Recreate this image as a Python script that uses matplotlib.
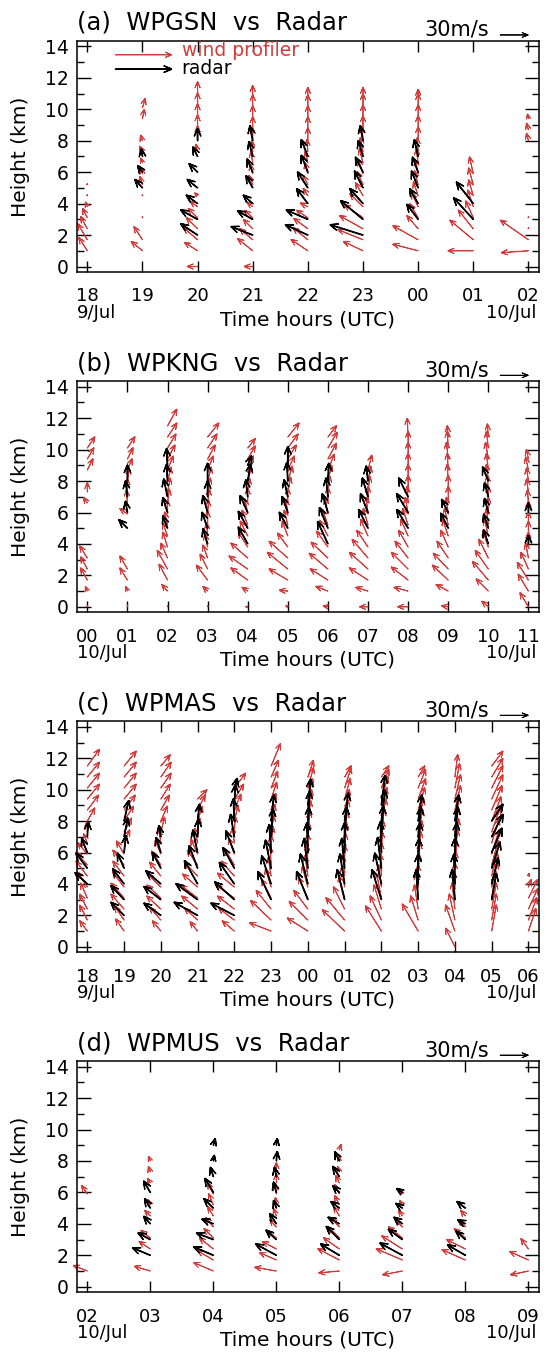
import numpy as np
import matplotlib
matplotlib.use('Agg')
import matplotlib.pyplot as plt
from matplotlib.ticker import MultipleLocator

N = None
RED = '#d63b3b'

# wind profiler gates and radar analysis levels (km)
wp_heights = [0.0, 1.0, 1.7, 2.4, 3.1, 3.8, 4.5, 5.2, 5.9, 6.6, 7.3, 8.0, 8.7, 9.4, 10.1, 10.8, 11.5]
radar_heights = [2, 3, 4, 5, 6, 7, 8, 9, 10]

# (u, v) in m/s, one row per hour, one entry per level

# (a) WPGSN
hours_a = ['18', '19', '20', '21', '22', '23', '00', '01', '02']
wp_a = [
    [N, (-9, 14), (-10, 17), (-7, 13), (-5, 10), (-2, 5), (0, 1), (0, 1), N, N, N, N, N, N, N, N, N],
    [N, (-12, 10), (-9, 14), N, (0, 1), N, (0, 1), (-3, 9), (-1, 6), (-2, 5), (-3, 6), (-2, 6), N, (2, 10), (3, 10), N, N],
    [(-11, 0), (-14, 9), (-15, 13), (-12, 12), (-10, 10), (-8, 6), (-3, 3), N, N, N, (-2, 8), (0, 16), (0, 16), (0, 16), (0, 16), (0, 16), N],
    [(-9, 0), (-16, 13), (-14, 12), (-10, 10), (-9, 8), (-6, 5), N, (-4, 10), (-3, 10), (-2, 12), (-1, 12), (0, 14), (0, 14), (0, 14), (0, 14), (0, 12), N],
    [N, (-18, 12), (-16, 13), (-15, 11), (-12, 8), (-8, 4), (-5, 8), (-5, 10), (-3, 12), (-3, 12), (-1, 13), (0, 14), (0, 14), (0, 14), (0, 14), (0, 10), N],
    [N, (-21, 10), (-27, 11), (-25, 14), (-20, 14), (-14, 14), (-8, 14), (-6, 14), (-5, 15), (-4, 15), (-3, 15), (-1, 15), (0, 15), (0, 15), (0, 15), (0, 10), N],
    [N, (-27, 7), (-27, 15), (-12, 14), (-9, 15), (-7, 15), (-5, 15), (-4, 15), (-3, 15), (-2, 15), (-1, 15), (0, 15), (0, 15), (0, 15), (0, 15), (0, 8), N],
    [N, (-27, 0), (-25, 21), (-16, 20), (-8, 18), (-6, 18), (-5, 17), (-5, 18), (-4, 18), N, N, N, N, N, N, N, N],
    [N, (-29, -2), (-30, 21), (0, 1), (0, 1), N, N, N, N, N, N, (-2, 8), (-2, 7), (-1, 5), N, N, N],
]
radar_a = [
    [N, N, N, N, N, N, N, N, N],
    [N, N, N, (-8, 9), (-5, 7), (-1, 8), N, N, N],
    [(-18, 12), (-18, 10), (-12, 9), (-11, 9), (-9, 9), (-5, 10), (0, 13), N, N],
    [(-23, 9), (-16, 9), (-10, 9), (-7, 13), (-6, 14), (-4, 16), (-3, 16), N, N],
    [(-24, 11), (-23, 10), (-12, 16), (-11, 17), (-7, 18), (-7, 18), N, N, N],
    [(-35, 11), (-24, 20), (-14, 16), (-9, 18), (-8, 16), (-5, 17), (-3, 16), N, N],
    [N, (-12, 16), (-9, 16), (-7, 18), (-6, 16), (-4, 18), N, N, N],
    [N, (-21, 23), (-18, 23), N, N, N, N, N, N],
    [N, N, N, N, N, N, N, N, N],
]

# (b) WPKNG
hours_b = ['00', '01', '02', '03', '04', '05', '06', '07', '08', '09', '10', '11']
wp_b = [
    [(0, 1), (-2, 5), (-7, 13), (-7, 13), (-8, 13), N, N, N, N, (-4, 6), (0, 10), N, (6, 12), (7, 12), (8, 12), N, N],
    [(0, 1), (-2, 5), (-8, 13), (-8, 14), N, N, N, N, (-8, 6), (-1, 14), (0, 14), (2, 14), (5, 12), (6, 12), (8, 12), N, N],
    [(0, 1), (-6, 7), (-9, 17), (-11, 20), (-7, 16), (-5, 16), (-5, 14), (-3, 14), (0, 15), (2, 15), (3, 15), (4, 15), (6, 15), (8, 15), (9, 15), (10, 15), (10, 18)],
    [(0, 1), (-5, 5), (-12, 16), (-8, 16), (-5, 14), (-3, 14), (-1, 14), (0, 15), (1, 15), (2, 15), (3, 15), (4, 15), (6, 15), (8, 15), (10, 15), (12, 15), N],
    [(-2, 0), (-6, 4), (-18, 13), (-20, 14), (-18, 16), (-10, 16), (-8, 16), (-6, 16), (-3, 16), (0, 16), (2, 15), (4, 15), (6, 15), (8, 14), (8, 10), N, N],
    [(-2, 1), (-9, 1), (-20, 12), (-22, 18), (-20, 18), (-11, 15), (-6, 16), (-4, 16), (-2, 16), (0, 16), (3, 16), (5, 16), (7, 15), (9, 15), (11, 15), (12, 15), N],
    [(-5, 1), (-13, 5), (-19, 12), (-20, 17), (-18, 17), (-12, 17), (-9, 17), (-6, 17), (-3, 17), (0, 17), (2, 17), (4, 17), (7, 17), (9, 17), (10, 17), (9, 12), N],
    [(-9, 0), (-13, 4), (-20, 13), (-20, 18), (-17, 20), (-12, 18), (-8, 18), (-5, 18), (-2, 18), (0, 18), (2, 17), (3, 16), (4, 16), N, N, N, N],
    [(-11, 0), (-15, 4), (-18, 14), (-18, 18), (-14, 18), (-10, 18), (-8, 18), (-6, 18), (-3, 18), (-1, 18), (0, 18), (0, 18), (0, 18), (0, 18), (0, 18), (-1, 20), N],
    [(-7, 1), (-13, 7), (-17, 16), (-16, 17), (-12, 18), (-8, 18), (-6, 18), (-4, 18), (-2, 18), (0, 18), (0, 18), (-1, 18), (-1, 18), (-2, 18), (-1, 18), (-1, 12), N],
    [(-7, 6), (-13, 13), (-17, 20), (-14, 20), (-10, 20), (-6, 18), (-4, 18), (-2, 18), (0, 18), (0, 18), (-1, 18), (-2, 18), (-2, 18), (-3, 18), (-2, 18), (-1, 14), N],
    [(-9, 15), (-11, 18), (-12, 19), (-8, 18), (-3, 16), (0, 16), (0, 16), (0, 14), (0, 14), (-1, 14), (-2, 14), (-2, 14), (-3, 14), (-2, 10), N, N, N],
]
radar_b = [
    [N, N, N, N, N, N, N, N, N],
    [N, N, N, (-9, 9), (-2, 12), (-2, 17), (0, 17), N, N],
    [N, N, N, (-5, 13), (-5, 16), (-4, 19), (-1, 18), (-1, 18), N],
    [N, N, (-5, 16), (-6, 17), (-5, 18), (0, 17), (0, 19), N, N],
    [N, N, (-10, 18), (-10, 18), (-8, 18), (-2, 18), (3, 18), (4, 10), N],
    [N, N, N, (-9, 17), (-6, 17), (-4, 18), (-1, 20), (0, 20), N],
    [N, N, (-11, 24), (-9, 22), (-6, 20), (-2, 20), (1, 19), N, N],
    [N, N, N, (-10, 20), (-8, 20), (-6, 20), (-2, 16), N, N],
    [N, N, N, (-12, 20), (-12, 20), (-10, 20), N, N, N],
    [N, N, N, (-8, 16), (-7, 14), N, N, N, N],
    [N, N, (-5, 15), (-5, 15), (-4, 15), (-4, 15), (-6, 15), N, N],
    [N, N, (0, 9), N, (0, 10), N, N, N, N],
]

# (c) WPMAS
hours_c = ['18', '19', '20', '21', '22', '23', '00', '01', '02', '03', '04', '05', '06']
wp_c = [
    [N, (-8, 11), (-8, 16), (-8, 16), (-7, 16), (-10, 16), (-12, 16), (-12, 14), (-10, 12), (-4, 10), (0, 12), (8, 14), (12, 16), (13, 16), (13, 16), (13, 16), (13, 18)],
    [N, (-9, 13), (-10, 15), (-14, 16), (-14, 16), (-12, 16), (-12, 16), (-12, 16), (-8, 14), (6, 14), (8, 15), (10, 16), (12, 16), (13, 16), (13, 16), (13, 16), (13, 16)],
    [N, (-9, 11), (-12, 14), (-15, 14), (-15, 14), (-14, 14), (-12, 15), (-10, 15), (-6, 15), (-2, 15), (4, 16), (7, 16), (9, 16), (10, 16), (11, 16), (11, 16), (10, 12)],
    [N, (-8, 10), (-14, 13), (-17, 14), (-18, 14), (-16, 14), (-14, 15), (-11, 16), (-7, 16), (-3, 16), (2, 16), (5, 16), (8, 16), (10, 10), N, N, N],
    [N, (-13, 11), (-17, 13), (-18, 14), (-20, 14), (-18, 15), (-14, 16), (-10, 17), (-6, 17), (-2, 17), (1, 17), (4, 17), (7, 17), (10, 16), (12, 16), N, N],
    [N, (-23, 9), (-22, 21), (-16, 20), (-10, 20), (-6, 20), (-3, 20), (-1, 20), (0, 20), (2, 18), (3, 18), (4, 18), (5, 18), (6, 18), (7, 18), (8, 18), (10, 24)],
    [N, (-22, 14), (-20, 20), (-15, 20), (-10, 22), (-6, 22), (-3, 22), (-1, 22), (0, 22), (1, 22), (2, 22), (3, 22), (4, 22), (5, 22), (6, 22), (6, 18), N],
    [N, (-24, 23), (-20, 24), (-12, 24), (-6, 24), (-3, 22), (-2, 22), (0, 22), (1, 22), (2, 22), (3, 22), (4, 22), (5, 22), (6, 22), (7, 22), (7, 12), N],
    [N, (-17, 27), (-12, 26), (-8, 26), (-5, 26), (-3, 24), (-1, 24), (0, 24), (1, 24), (2, 24), (3, 24), (5, 24), (6, 24), (7, 24), (8, 20), (8, 12), N],
    [N, (-17, 29), (-8, 26), (-4, 26), (-2, 26), (0, 24), (1, 24), (2, 24), (3, 24), (4, 24), (5, 24), (6, 24), (7, 24), (8, 22), (8, 20), (7, 12), N],
    [(-10, 20), (-10, 28), (-6, 28), (-3, 28), (-1, 28), (0, 26), (1, 26), (2, 26), (3, 26), (4, 26), (4, 26), (5, 26), (6, 26), (6, 26), (5, 26), (3, 24), N],
    [N, (5, 28), (5, 28), (5, 28), (5, 28), (6, 26), (6, 26), (7, 26), (8, 26), (8, 26), (9, 26), (10, 26), (11, 26), (12, 26), (12, 24), (12, 20), (12, 16)],
    [N, (8, 24), (9, 24), (10, 22), (10, 20), (3, 8), (1, 3), N, N, N, N, N, N, N, N, N, N],
]
radar_c = [
    [N, N, (-13, 12), (-12, 16), (-6, 15), (1, 16), N, N, N],
    [(-14, 14), (-14, 15), (-12, 16), (-7, 16), (2, 18), (4, 20), (5, 22), N, N],
    [(-18, 13), (-18, 14), (-16, 14), (-9, 17), (-5, 16), (-2, 12), N, N, N],
    [(-25, 14), (-23, 17), (-14, 25), (-9, 24), (-5, 24), (1, 19), (2, 18), N, N],
    [(-25, 13), (-21, 19), (-16, 23), (-12, 22), (-9, 23), (-4, 24), (-1, 24), (1, 22), (3, 12)],
    [N, (-14, 30), (-10, 30), (-6, 30), (-2, 30), (2, 30), (3, 28), N, N],
    [N, (-12, 30), (-8, 32), (-4, 32), (-1, 32), (1, 32), (2, 32), (3, 28), N],
    [N, (-8, 32), (-5, 32), (-3, 32), (0, 32), (2, 32), (4, 30), N, N],
    [N, (-10, 32), (-7, 33), (-4, 33), (-1, 33), (2, 33), (4, 33), (4, 32), N],
    [N, (-2, 32), (0, 32), (1, 32), (2, 32), (3, 32), (4, 28), N, N],
    [N, (-3, 32), (-1, 32), (0, 32), (2, 32), (3, 32), (4, 28), N, N],
    [N, (5, 28), (7, 28), (9, 28), (11, 26), (12, 24), (12, 18), N, N],
    [N, N, N, N, N, N, N, N, N],
]

# (d) WPMUS
hours_d = ['02', '03', '04', '05', '06', '07', '08', '09']
wp_d = [
    [N, (-15, 6), N, N, N, N, N, N, (-6, 9), N, N, N, N, N, N, N, N],
    [N, (-17, 5), N, (-12, 8), (-10, 8), N, (-6, 6), (-3, 6), N, (-3, 5), (-2, 6), (-2, 5), N, N, N, N, N],
    [N, (-21, 9), (-17, 10), (-15, 12), (-10, 10), (-8, 10), (-6, 10), (-5, 12), (-6, 12), N, N, N, N, N, N, N, N],
    [N, (-23, 4), (-18, 8), (-15, 8), (-10, 8), (-7, 8), (-3, 8), (-1, 8), (-2, 10), (0, 10), (0, 10), N, N, N, N, N, N],
    [N, (-22, -2), (-23, 12), (-17, 12), (-12, 12), (-9, 10), (-6, 10), (-5, 10), (-5, 10), (-4, 8), (-2, 6), (-1, 5), (2, 6), N, N, N, N],
    [N, (-21, -4), (-28, 12), (-22, 14), (-15, 12), (-8, 8), (-4, 6), (-3, 5), (-2, 4), N, N, N, N, N, N, N, N],
    [N, N, (-25, 11), (-20, 10), (-12, 10), (-8, 8), (-5, 6), N, N, N, N, N, N, N, N, N, N],
    [N, (-19, -4), (-20, 9), (-8, 11), N, N, N, N, N, N, N, N, N, N, N, N, N],
]
radar_d = [
    [N, N, N, N, N, N, N, N, N],
    [(-19, 8), (-13, 7), (-7, 8), (-6, 10), (-7, 12), N, N, N, N],
    [(-21, 9), (-18, 7), (-12, 5), (-10, 10), (-9, 15), (-3, 10), (1, 6), (2, 7), N],
    [(-22, 12), (-11, 10), (-7, 11), (-3, 8), (-3, 11), (-2, 10), (1, 10), (1, 7), N],
    [(-20, 12), (-14, 14), (-12, 7), (-9, 7), (-7, 7), (-7, 11), (-5, 10), N, N],
    [(-24, 13), (-15, 11), (-9, 7), (-7, 5), (-6, 4), N, N, N, N],
    [(-19, 11), (-10, 9), (-8, 4), (-9, 7), N, N, N, N, N],
    [N, N, N, N, N, N, N, N, N],
]

panels = [
    ('(a)  WPGSN  vs  Radar', hours_a, '9/Jul', wp_a, radar_a),
    ('(b)  WPKNG  vs  Radar', hours_b, '10/Jul', wp_b, radar_b),
    ('(c)  WPMAS  vs  Radar', hours_c, '9/Jul', wp_c, radar_c),
    ('(d)  WPMUS  vs  Radar', hours_d, '10/Jul', wp_d, radar_d),
]

KEY_SPEED = 30      # m/s
LEGEND_SPEED = 60   # length of legend arrows, m/s
SCALE = 30 / 0.28   # m/s per inch -> 30 m/s is 28 px


def flatten(rows, heights):
    x, y, u, v = [], [], [], []
    for i, row in enumerate(rows):
        for h, val in zip(heights, row):
            if val is None:
                continue
            x.append(i)
            y.append(h)
            u.append(val[0])
            v.append(val[1])
    return x, y, u, v


def arrows(ax, x, y, u, v, color, lw, width, hl, hw, **kw):
    # open "V" heads: outline only, no head axis
    q = ax.quiver(x, y, u, v, angles='uv', scale_units='inches', scale=SCALE,
                  units='dots', width=width, headlength=hl, headwidth=hw,
                  headaxislength=0, facecolors='none', edgecolors=color,
                  linewidths=lw, clip_on=False, **kw)
    return q


def red_arrows(ax, x, y, u, v, **kw):
    return arrows(ax, x, y, u, v, RED, 0.65, 0.4, 15, 13, **kw)


def black_arrows(ax, x, y, u, v, **kw):
    return arrows(ax, x, y, u, v, 'black', 0.95, 0.5, 15, 13, **kw)


fig = plt.figure(figsize=(5.46, 13.52), dpi=100)
bottoms = [0.7988, 0.5471, 0.2956, 0.0442]

for k, (title, hours, first_date, wp, radar) in enumerate(panels):
    ax = fig.add_axes([0.1405, bottoms[k], 0.8467, 0.1709])
    n = len(hours) - 1
    pad = 0.024 * n

    x, y, u, v = flatten(wp, wp_heights)
    red_arrows(ax, x, y, u, v, zorder=2)
    x, y, u, v = flatten(radar, radar_heights)
    black_arrows(ax, x, y, u, v, zorder=3)

    ax.set_xlim(-pad, n + pad)
    ax.set_ylim(-0.35, 14.35)
    ax.set_xticks(range(n + 1))
    ax.set_xticklabels(hours)
    ax.set_yticks(range(0, 15, 2))
    ax.yaxis.set_minor_locator(MultipleLocator(1))
    ax.tick_params(which='both', direction='in', top=True, right=True, width=1)
    ax.tick_params(axis='x', length=8, pad=11, labelsize=13)
    ax.tick_params(axis='y', which='major', length=10, pad=6, labelsize=13.5)
    ax.tick_params(axis='y', which='minor', length=5)
    for s in ax.spines.values():
        s.set_linewidth(1.1)

    ax.set_ylabel('Height (km)', fontsize=14.5, va='center')
    ax.yaxis.set_label_coords(-0.1226, 0.5)
    ax.set_xlabel('Time hours (UTC)', fontsize=14.5, va='center')
    ax.xaxis.set_label_coords(0.5, -48 / 231)

    ax.text(0.0, -41 / 231, first_date, transform=ax.transAxes, ha='left', va='center', fontsize=13)
    ax.text(0.995, -41 / 231, '10/Jul', transform=ax.transAxes, ha='right', va='center', fontsize=13)

    ax.text(0.0, 1 + 18 / 231, title, transform=ax.transAxes, ha='left', va='center', fontsize=17.5)
    ax.text(0.892, 1 + 11 / 231, '30m/s', transform=ax.transAxes, ha='right', va='center', fontsize=15)
    arrows(ax, [0.9157], [1 + 6 / 231], [KEY_SPEED], [0], 'black', 0.6, 0.3, 20, 16,
           transform=ax.transAxes)

    if k == 0:
        red_arrows(ax, [0.51], [13.47], [LEGEND_SPEED], [0])
        black_arrows(ax, [0.51], [12.56], [LEGEND_SPEED], [0])
        ax.text(1.71, 13.72, 'wind profiler', color=RED, fontsize=13.5, va='center', ha='left')
        ax.text(1.71, 12.62, 'radar', color='black', fontsize=13.5, va='center', ha='left')

fig.savefig('out.png', dpi=100)
